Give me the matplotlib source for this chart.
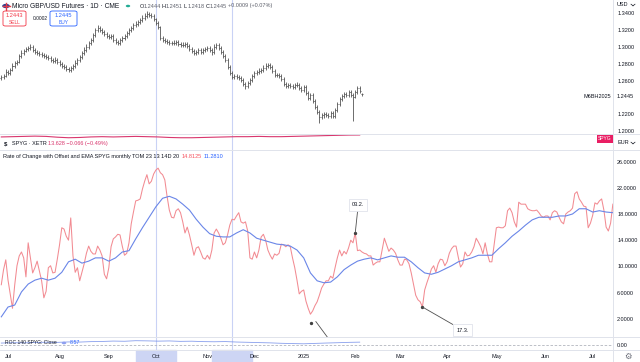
import matplotlib

matplotlib.use("Agg")
import matplotlib.pyplot as plt
import numpy as np
import pandas as pd
from matplotlib.lines import Line2D
from matplotlib.patches import Circle, FancyBboxPatch, Rectangle
from matplotlib.transforms import offset_copy

plt.rcParams["font.family"] = ["Liberation Sans", "DejaVu Sans"]

W, H = 640, 362

# Micro GBP/USD daily bars (26 Jun 2024 .. 5 Feb 2025)
price_open = [
    1.2630, 1.2643, 1.2655, 1.2702, 1.2690, 1.2726, 1.2774, 1.2810, 1.2821, 1.2893,
    1.2929, 1.2952, 1.2976, 1.2988, 1.3000, 1.2964, 1.2940, 1.2929, 1.2917, 1.2905,
    1.2893, 1.2881, 1.2869, 1.2845, 1.2833, 1.2845, 1.2821, 1.2798, 1.2774, 1.2762,
    1.2738, 1.2726, 1.2750, 1.2774, 1.2810, 1.2845, 1.2881, 1.2929, 1.2964, 1.3000,
    1.3048, 1.3083, 1.3143, 1.3202, 1.3226, 1.3202, 1.3179, 1.3155, 1.3131, 1.3119,
    1.3131, 1.3083, 1.3060, 1.3048, 1.3083, 1.3107, 1.3131, 1.3167, 1.3202, 1.3226,
    1.3262, 1.3274, 1.3298, 1.3321, 1.3345, 1.3369, 1.3393, 1.3381, 1.3369, 1.3333,
    1.3286, 1.3238, 1.3107, 1.3083, 1.3071, 1.3060, 1.3048, 1.3048, 1.3048, 1.3060,
    1.3036, 1.3024, 1.3024, 1.3036, 1.3012, 1.2976, 1.2952, 1.2929, 1.2940, 1.2964,
    1.2940, 1.2964, 1.2976, 1.2988, 1.2964, 1.2940, 1.3000, 1.3024, 1.2988, 1.2940,
    1.2893, 1.2845, 1.2762, 1.2690, 1.2643, 1.2655, 1.2643, 1.2631, 1.2607, 1.2560,
    1.2536, 1.2571, 1.2607, 1.2655, 1.2690, 1.2702, 1.2714, 1.2726, 1.2750, 1.2774,
    1.2786, 1.2762, 1.2714, 1.2667, 1.2667, 1.2655, 1.2619, 1.2560, 1.2536, 1.2548,
    1.2536, 1.2524, 1.2548, 1.2548, 1.2512, 1.2488, 1.2524, 1.2452, 1.2393, 1.2429,
    1.2357, 1.2286, 1.2226, 1.2167, 1.2190, 1.2202, 1.2190, 1.2179, 1.2214, 1.2179,
    1.2250, 1.2321, 1.2381, 1.2417, 1.2440, 1.2429, 1.2464, 1.2429, 1.2405, 1.2464,
    1.2512, 1.2444,
]
price_high = [
    1.2670, 1.2680, 1.2735, 1.2725, 1.2750, 1.2805, 1.2835, 1.2850, 1.2915, 1.2960,
    1.2980, 1.3000, 1.3015, 1.3035, 1.3020, 1.2985, 1.2965, 1.2955, 1.2940, 1.2930,
    1.2920, 1.2905, 1.2895, 1.2870, 1.2875, 1.2870, 1.2845, 1.2825, 1.2800, 1.2790,
    1.2765, 1.2775, 1.2800, 1.2840, 1.2870, 1.2910, 1.2955, 1.2995, 1.3030, 1.3075,
    1.3110, 1.3170, 1.3230, 1.3260, 1.3250, 1.3230, 1.3205, 1.3180, 1.3160, 1.3155,
    1.3150, 1.3110, 1.3085, 1.3110, 1.3135, 1.3160, 1.3195, 1.3230, 1.3255, 1.3290,
    1.3305, 1.3325, 1.3350, 1.3375, 1.3400, 1.3430, 1.3420, 1.3410, 1.3395, 1.3350,
    1.3310, 1.3250, 1.3130, 1.3110, 1.3095, 1.3085, 1.3075, 1.3080, 1.3085, 1.3085,
    1.3060, 1.3055, 1.3065, 1.3060, 1.3035, 1.3000, 1.2975, 1.2970, 1.2990, 1.2990,
    1.2990, 1.3005, 1.3015, 1.3010, 1.2990, 1.3030, 1.3050, 1.3045, 1.3010, 1.2960,
    1.2915, 1.2870, 1.2785, 1.2715, 1.2680, 1.2680, 1.2670, 1.2655, 1.2630, 1.2585,
    1.2600, 1.2635, 1.2680, 1.2720, 1.2730, 1.2745, 1.2755, 1.2780, 1.2805, 1.2815,
    1.2810, 1.2785, 1.2740, 1.2695, 1.2690, 1.2680, 1.2640, 1.2585, 1.2575, 1.2575,
    1.2560, 1.2575, 1.2580, 1.2570, 1.2540, 1.2550, 1.2545, 1.2475, 1.2455, 1.2450,
    1.2380, 1.2310, 1.2250, 1.2215, 1.2230, 1.2225, 1.2215, 1.2240, 1.2240, 1.2275,
    1.2345, 1.2405, 1.2440, 1.2470, 1.2465, 1.2490, 1.2485, 1.2450, 1.2490, 1.2540,
    1.2530, 1.2451,
]
price_low = [
    1.2605, 1.2620, 1.2640, 1.2665, 1.2670, 1.2710, 1.2755, 1.2790, 1.2805, 1.2870,
    1.2905, 1.2935, 1.2950, 1.2965, 1.2940, 1.2915, 1.2900, 1.2890, 1.2880, 1.2870,
    1.2855, 1.2845, 1.2820, 1.2805, 1.2810, 1.2795, 1.2770, 1.2750, 1.2735, 1.2710,
    1.2700, 1.2705, 1.2725, 1.2750, 1.2785, 1.2820, 1.2860, 1.2905, 1.2940, 1.2975,
    1.3020, 1.3060, 1.3120, 1.3180, 1.3175, 1.3150, 1.3130, 1.3105, 1.3090, 1.3095,
    1.3060, 1.3035, 1.3020, 1.3025, 1.3060, 1.3085, 1.3110, 1.3145, 1.3180, 1.3200,
    1.3240, 1.3250, 1.3275, 1.3295, 1.3320, 1.3345, 1.3355, 1.3340, 1.3305, 1.3260,
    1.3210, 1.3085, 1.3055, 1.3045, 1.3035, 1.3020, 1.3020, 1.3025, 1.3025, 1.3010,
    1.3000, 1.2995, 1.3000, 1.2985, 1.2950, 1.2925, 1.2900, 1.2905, 1.2915, 1.2915,
    1.2915, 1.2940, 1.2950, 1.2935, 1.2910, 1.2920, 1.2975, 1.2965, 1.2915, 1.2865,
    1.2820, 1.2740, 1.2665, 1.2615, 1.2620, 1.2615, 1.2605, 1.2580, 1.2535, 1.2505,
    1.2510, 1.2545, 1.2580, 1.2630, 1.2665, 1.2675, 1.2690, 1.2700, 1.2725, 1.2745,
    1.2735, 1.2690, 1.2640, 1.2640, 1.2630, 1.2595, 1.2535, 1.2510, 1.2510, 1.2510,
    1.2495, 1.2500, 1.2520, 1.2485, 1.2460, 1.2465, 1.2425, 1.2365, 1.2370, 1.2330,
    1.2260, 1.2200, 1.2100, 1.2140, 1.2160, 1.2165, 1.2150, 1.2155, 1.2150, 1.2160,
    1.2230, 1.2300, 1.2360, 1.2395, 1.2405, 1.2410, 1.2405, 1.2120, 1.2390, 1.2445,
    1.2455, 1.2418,
]
price_close = [
    1.2643, 1.2655, 1.2702, 1.2690, 1.2726, 1.2774, 1.2810, 1.2821, 1.2893, 1.2929,
    1.2952, 1.2976, 1.2988, 1.3000, 1.2964, 1.2940, 1.2929, 1.2917, 1.2905, 1.2893,
    1.2881, 1.2869, 1.2845, 1.2833, 1.2845, 1.2821, 1.2798, 1.2774, 1.2762, 1.2738,
    1.2726, 1.2750, 1.2774, 1.2810, 1.2845, 1.2881, 1.2929, 1.2964, 1.3000, 1.3048,
    1.3083, 1.3143, 1.3202, 1.3226, 1.3202, 1.3179, 1.3155, 1.3131, 1.3119, 1.3131,
    1.3083, 1.3060, 1.3048, 1.3083, 1.3107, 1.3131, 1.3167, 1.3202, 1.3226, 1.3262,
    1.3274, 1.3298, 1.3321, 1.3345, 1.3369, 1.3393, 1.3381, 1.3369, 1.3333, 1.3286,
    1.3238, 1.3107, 1.3083, 1.3071, 1.3060, 1.3048, 1.3048, 1.3048, 1.3060, 1.3036,
    1.3024, 1.3024, 1.3036, 1.3012, 1.2976, 1.2952, 1.2929, 1.2940, 1.2964, 1.2940,
    1.2964, 1.2976, 1.2988, 1.2964, 1.2940, 1.3000, 1.3024, 1.2988, 1.2940, 1.2893,
    1.2845, 1.2762, 1.2690, 1.2643, 1.2655, 1.2643, 1.2631, 1.2607, 1.2560, 1.2536,
    1.2571, 1.2607, 1.2655, 1.2690, 1.2702, 1.2714, 1.2726, 1.2750, 1.2774, 1.2786,
    1.2762, 1.2714, 1.2667, 1.2667, 1.2655, 1.2619, 1.2560, 1.2536, 1.2548, 1.2536,
    1.2524, 1.2548, 1.2548, 1.2512, 1.2488, 1.2524, 1.2452, 1.2393, 1.2429, 1.2357,
    1.2286, 1.2226, 1.2167, 1.2190, 1.2202, 1.2190, 1.2179, 1.2214, 1.2179, 1.2250,
    1.2321, 1.2381, 1.2417, 1.2440, 1.2429, 1.2464, 1.2429, 1.2405, 1.2464, 1.2512,
    1.2476, 1.2445,
]

# SPYG (XETR, EUR), every 5th session
spyg_close = [
    12.90, 13.00, 13.10, 13.20, 13.10, 12.80, 12.60, 12.70, 12.90, 13.00,
    12.90, 13.00, 13.10, 13.00, 12.90, 12.70, 12.60, 12.60, 12.70, 12.80,
    12.90, 13.00, 13.00, 13.10, 13.00, 13.00, 13.10, 13.20, 13.30, 13.40,
    13.50, 13.60, 13.63,
]

# Rate of Change with Offset (daily) and its EMA (every 3rd session)
roc = [
    7.2, 9.5, 11.0, 7.9, 5.8, 3.6, 7.2, 10.1, 11.6, 12.2,
    11.3, 8.4, 13.6, 11.3, 9.0, 9.8, 10.8, 9.3, 7.8, 5.2,
    6.2, 9.8, 10.1, 9.0, 9.1, 11.1, 13.3, 15.9, 15.7, 14.6,
    14.0, 17.4, 11.6, 9.1, 9.8, 7.8, 9.1, 10.4, 12.0, 13.1,
    12.3, 11.9, 11.9, 13.1, 12.5, 11.6, 8.8, 8.1, 9.8, 13.0,
    14.2, 14.5, 14.9, 14.8, 13.1, 11.7, 12.0, 13.6, 16.5, 18.3,
    20.0, 20.1, 20.3, 21.8, 23.0, 24.0, 22.6, 23.0, 24.1, 24.7,
    25.0, 24.3, 24.0, 23.2, 20.7, 18.6, 17.5, 17.4, 18.5, 18.8,
    18.2, 16.8, 15.1, 16.0, 14.8, 13.3, 11.7, 12.8, 13.0, 12.2,
    11.3, 11.1, 11.7, 11.1, 12.5, 15.1, 15.7, 15.1, 14.3, 13.3,
    13.6, 14.8, 16.3, 17.2, 17.1, 17.7, 18.2, 16.8, 16.6, 16.8,
    15.4, 11.3, 11.1, 12.2, 11.3, 12.5, 14.5, 14.9, 14.0, 12.5,
    11.7, 11.1, 11.9, 11.7, 12.0, 13.4, 13.3, 13.0, 13.3, 13.0,
    11.3, 9.8, 7.9, 5.8, 6.2, 6.4, 4.7, 3.6, 2.7, 3.2,
    4.0, 4.6, 5.6, 6.7, 7.3, 7.8, 7.8, 8.5, 8.2, 9.8,
    11.3, 12.5, 11.6, 12.3, 11.9, 12.8, 14.0, 13.6, 15.1, 12.4,
    12.5, 12.2, 12.0, 11.9, 11.6, 11.6, 10.2, 10.5, 10.7, 10.7,
    12.5, 14.3, 13.3, 12.3, 12.8, 12.5, 12.0, 11.0, 10.2, 10.2,
    11.1, 11.0, 10.4, 9.0, 7.3, 5.6, 4.9, 4.6, 3.8, 6.4,
    7.5, 8.5, 9.6, 10.1, 9.1, 10.4, 11.1, 11.0, 10.1, 10.7,
    12.0, 12.7, 13.1, 13.1, 11.4, 9.9, 10.4, 12.2, 11.6, 11.7,
    12.2, 13.0, 14.3, 13.7, 13.0, 11.9, 13.6, 11.9, 10.7, 10.7,
    13.3, 15.9, 16.0, 15.9, 15.9, 16.2, 18.5, 18.9, 18.2, 16.8,
    16.0, 19.8, 19.5, 19.5, 19.5, 18.8, 18.6, 18.5, 18.5, 18.6,
    18.2, 17.7, 17.5, 17.7, 17.7, 17.1, 18.2, 18.5, 18.3, 17.5,
    16.8, 16.5, 18.0, 18.3, 18.5, 18.9, 21.1, 21.4, 20.3, 19.8,
    19.2, 19.1, 15.9, 16.6, 17.8, 19.7, 19.5, 20.0, 20.3, 18.6,
    16.0, 15.4, 16.6, 19.5,
]
roc_ema = [
    2.3, 3.8, 4.1, 6.1, 7.3, 7.9, 8.2, 7.9, 8.2, 9.1,
    10.7, 11.1, 10.5, 10.8, 11.3, 11.3, 10.8, 11.3, 12.2, 12.4,
    14.2, 15.9, 17.5, 19.1, 20.4, 20.7, 20.3, 19.5, 18.6, 17.2,
    16.0, 15.0, 14.6, 14.5, 14.5, 15.1, 15.6, 15.1, 14.3, 14.0,
    13.7, 13.4, 13.3, 13.1, 12.5, 11.3, 9.0, 7.8, 7.5, 7.6,
    8.4, 9.5, 10.2, 10.8, 11.1, 11.3, 11.0, 11.3, 11.6, 11.4,
    11.4, 10.7, 9.8, 9.0, 8.8, 9.1, 9.6, 10.1, 10.7, 11.0,
    11.3, 11.7, 11.7, 11.7, 12.7, 13.6, 14.6, 15.4, 16.3, 17.1,
    17.5, 17.5, 17.5, 17.7, 17.7, 18.0, 18.8, 18.8, 18.3, 18.5,
    18.3, 18.2,
]

# ROC 140 of SPYG close, every 5th session
roc140 = [
    5.8, 6.9, 6.4, 7.6, 8.3, 7.9, 9.2, 8.8, 10.1, 10.6,
    11.8, 11.2, 12.9, 12.4, 11.6, 12.2, 10.9, 11.4, 10.2, 9.7,
    10.3, 8.9, 8.1, 7.2, 6.4, 5.1, 4.3, 3.6, 4.8, 5.9,
    6.8, 7.9, 8.57,
]

price_ticks = [1.20, 1.22, 1.26, 1.28, 1.30, 1.32, 1.34]
roc_ticks = [2, 6, 10, 14, 18, 22, 26]
marked_days = ["2024-10-01", "2024-11-18"]
notes = [("2025-02-03", "03.2.", (3, 28)), ("2025-03-17", "17.3.", (40, -23))]

TXT = "#131722"
GRID = "#e0e3eb"
BAR = "#555555"
RED = "#f28b92"
BLUE = "#6a86e8"
PINK = "#d9376e"
MARK = "#c9d2f5"
FS = 4.0

sessions = pd.bdate_range("2024-06-26", periods=len(roc))
bar_x = np.arange(len(roc))
price_x = np.arange(len(price_close))
ema_x = np.arange(len(roc_ema)) * 3
weekly_x = np.arange(len(roc140)) * 5
XLIM = (-0.58, 273.07)

fig = plt.figure(figsize=(W / 100, H / 100), dpi=100)
fig.patch.set_facecolor("white")


def px_axes(x0, y0, x1, y1):
    ax = fig.add_axes([x0 / W, 1 - y1 / H, (x1 - x0) / W, (y1 - y0) / H])
    ax.set_facecolor("none")
    for s in ax.spines.values():
        s.set_visible(False)
    ax.set_xlim(*XLIM)
    ax.set_xticks([])
    ax.yaxis.tick_right()
    ax.tick_params(axis="y", length=0, pad=3, labelsize=FS, labelcolor=TXT)
    return ax


def ftext(x, y, s, **kw):
    kw.setdefault("size", FS)
    kw.setdefault("color", TXT)
    kw.setdefault("va", "center")
    return fig.text(x / W, 1 - y / H, s, **kw)


def fline(x0, y0, x1, y1, **kw):
    fig.add_artist(Line2D([x0 / W, x1 / W], [1 - y0 / H, 1 - y1 / H], **kw))


# pane frames
for y in (134, 150, 337, 350):
    fline(0, y, W, y, color=GRID, lw=0.7)
fline(613, 0, 613, H, color=GRID, lw=0.7)

# price pane
ax_p = px_axes(0, 0, 613, 134)
ax_p.vlines(price_x, price_low, price_high, color=BAR, lw=0.6)
ax_p.hlines(price_open, price_x - 0.45, price_x, color=BAR, lw=0.6)
ax_p.hlines(price_close, price_x, price_x + 0.45, color=BAR, lw=0.6)
ax_p.set_ylim(1.19643, 1.35595)
ax_p.set_yticks(price_ticks, [f"{t:.4f}" for t in price_ticks])

# SPYG pane
ax_s = px_axes(0, 134, 613, 150)
ax_s.plot(weekly_x, spyg_close, color=PINK, lw=0.8)
ax_s.set_ylim(8, 14)
ax_s.set_yticks([])

# ROC pane
ax_r = px_axes(0, 150, 613, 337)
ax_r.plot(bar_x, roc, color=RED, lw=0.75)
ax_r.plot(ema_x, roc_ema, color=BLUE, lw=0.8)
ax_r.set_ylim(-0.78, 27.77)
ax_r.set_yticks(roc_ticks, [f"{t:.4f}" for t in roc_ticks])

for day, label, off in notes:
    i = sessions.get_loc(pd.Timestamp(day))
    ax_r.annotate(label, xy=(i, roc[i]), xytext=off, textcoords="offset pixels",
                  ha="center", va="center", size=FS, color=TXT,
                  bbox=dict(boxstyle="square,pad=0.55", fc="white", ec=GRID, lw=0.6),
                  arrowprops=dict(arrowstyle="-", color="#505050", lw=0.6,
                                  shrinkA=0, shrinkB=0))
    ax_r.plot(i, roc[i], "o", ms=1.4, color="#404040")

low_i = int(np.argmin(roc[100:160])) + 100
ax_r.annotate("", xy=(low_i, roc[low_i]), xytext=(17, -23), textcoords="offset pixels",
              arrowprops=dict(arrowstyle="-", color="#505050", lw=0.6,
                              shrinkA=0, shrinkB=6.5))
dot_tr = offset_copy(ax_r.transData, fig=fig, x=0.5, y=-9, units="dots")
ax_r.plot(low_i, roc[low_i], "o", ms=1.4, color="#404040", transform=dot_tr)

# ROC 140 pane
ax_b = px_axes(0, 337, 613, 350)
ax_b.axhline(0, color="#b2b5be", lw=0.6, dashes=(3, 2))
ax_b.plot(weekly_x, roc140, color=BLUE, lw=0.6, alpha=0.8)
ax_b.set_ylim(-15, 24)
ax_b.set_yticks([0], ["0.00"])

# marked days (vertical lines + axis boxes)
for d in marked_days:
    i = sessions.get_loc(pd.Timestamp(d))
    for ax in (ax_p, ax_s, ax_r, ax_b):
        ax.axvline(i, color=MARK, lw=0.8, zorder=0)
    xp = (i - XLIM[0]) / (XLIM[1] - XLIM[0]) * 613
    fig.add_artist(Rectangle(((xp - 20) / W, 0), 40 / W, 12 / H,
                             transform=fig.transFigure, color="#cdd5f4", zorder=0))

# time axis
months = pd.date_range("2024-07-01", "2025-07-01", freq="MS")
month_x = [sessions.searchsorted(m) for m in months]
month_lbl = ["2025" if m.month == 1 else m.strftime("%b") for m in months]
ax_b.set_xticks(month_x, month_lbl)
ax_b.tick_params(axis="x", length=0, pad=3.2, labelsize=FS, labelcolor=TXT)

# header: symbol + trade buttons
fig.add_artist(Circle((6 / W, 1 - 6 / H), 3.8 / W, transform=fig.transFigure,
                      fc="#2b3f8f", ec="none"))
fline(2.5, 6, 9.5, 6, color="#e23b4a", lw=1.0)
fline(6, 2.5, 6, 9.5, color="#e23b4a", lw=1.0)
ftext(12, 6, "Micro GBP/USD Futures · 1D · CME", size=4.8)
fig.add_artist(Circle((128 / W, 1 - 6 / H), 2.2 / W, transform=fig.transFigure,
                      fc="#22ab94", ec="none"))
ohlc = [("O", "1.2444"), ("H", "1.2451"), ("L", "1.2418"), ("C", "1.2445")]
x = 140
for k, v in ohlc:
    ftext(x, 6, k)
    ftext(x + 3.5, 6, v, color="#5d606b")
    x += 22
ftext(x, 6, "+0.0009 (+0.07%)", color="#5d606b")

for x0, x1, col, val, lab in [(3, 26, "#f23645", "1.2443", "SELL"),
                               (50, 77, "#2962ff", "1.2445", "BUY")]:
    fig.add_artist(FancyBboxPatch((x0 / W, 1 - 26 / H), (x1 - x0) / W, 15 / H,
                                  boxstyle="round,pad=0,rounding_size=0.004",
                                  transform=fig.transFigure, fc="white", ec=col, lw=0.6))
    ftext((x0 + x1) / 2, 15.5, val, size=4.1, color=col, ha="center")
    ftext((x0 + x1) / 2, 22, lab, size=3.5, color=col, ha="center")
ftext(40, 18.5, "0.0002", size=3.5, ha="center")

# right scale extras
ftext(617, 5, "USD")
ftext(617, 143, "EUR")
for yc in (5, 143):
    fline(631, yc - 0.8, 633, yc + 0.8, color=TXT, lw=0.5)
    fline(633, yc + 0.8, 635, yc - 0.8, color=TXT, lw=0.5)
ftext(617, 96, "1.2445")
ftext(611, 96, "M6BH2025", ha="right")
ftext(605, 139, "SPYG", size=3.6, color="white", ha="center",
      bbox=dict(boxstyle="square,pad=0.25", fc="#e91e63", ec="none"))
ftext(628, 356, "⚙", size=6, color="#6a6d78", ha="center", family="DejaVu Sans")

# pane legends
ftext(4, 143.5, "$", size=4.3, weight="bold")
ftext(12, 143.5, "SPYG · XETR")
ftext(48, 143.5, "13.628 −0.066 (−0.49%)", color=PINK)
ftext(3, 157, "Rate of Change with Offset and EMA SPYG monthly TOM 23 13 14D 20")
ftext(182, 157, "14.8125", color="#f7525f")
ftext(204, 157, "11.2810", color="#2962ff")
ftext(5, 343, "ROC 140 SPYG: Close", size=3.6)
fig.add_artist(Circle((64 / W, 1 - 343 / H), 2.3 / W, transform=fig.transFigure,
                      fc="#8e9ff0", ec="none"))
ftext(69.5, 343, "8.57", size=3.8, color="#2962ff")

fig.savefig("out.png", dpi=100)
plt.close(fig)
